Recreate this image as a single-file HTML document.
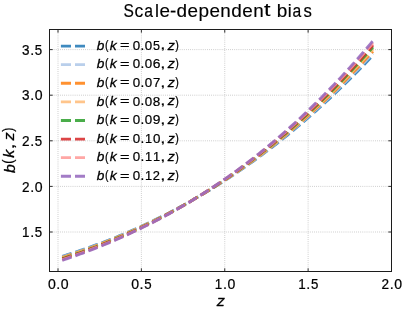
<!DOCTYPE html>
<html><head><meta charset="utf-8"><title>Scale-dependent bias</title>
<style>html,body{margin:0;padding:0;background:#fff;}svg{display:block;will-change:transform;transform:translateZ(0);}text{font-family:"Liberation Sans",sans-serif;fill:#000;stroke:#000;stroke-linejoin:round;}</style>
</head><body>
<svg width="405" height="313" viewBox="0 0 405 313">
<rect x="0" y="0" width="405" height="313" fill="#ffffff"/>
<g stroke="#b0b0b0" stroke-opacity="1" stroke-width="0.75" stroke-dasharray="0.8 1.3" fill="none">
<path d="M58.00 271.50 V29.50"/>
<path d="M141.38 271.50 V29.50"/>
<path d="M224.75 271.50 V29.50"/>
<path d="M308.12 271.50 V29.50"/>
<path d="M49.50 232.00 H391.50"/>
<path d="M49.50 186.40 H391.50"/>
<path d="M49.50 140.80 H391.50"/>
<path d="M49.50 95.20 H391.50"/>
<path d="M49.50 49.60 H391.50"/>
</g>
<g fill="none" stroke-opacity="0.86" stroke-width="2.85" stroke-dasharray="9.75 4.15" stroke-linecap="butt" stroke-linejoin="round">
<path d="M62.25 256.29 L64.84 255.49 L67.43 254.68 L70.02 253.85 L72.61 253.02 L75.20 252.17 L77.79 251.31 L80.38 250.44 L82.97 249.56 L85.56 248.66 L88.15 247.75 L90.74 246.83 L93.33 245.90 L95.92 244.96 L98.50 244.00 L101.09 243.03 L103.68 242.05 L106.27 241.06 L108.86 240.05 L111.45 239.03 L114.04 238.00 L116.63 236.95 L119.22 235.89 L121.81 234.82 L124.40 233.73 L126.99 232.63 L129.58 231.52 L132.17 230.39 L134.76 229.25 L137.35 228.10 L139.94 226.93 L142.53 225.75 L145.12 224.56 L147.71 223.35 L150.29 222.13 L152.88 220.89 L155.47 219.64 L158.06 218.37 L160.65 217.09 L163.24 215.80 L165.83 214.49 L168.42 213.16 L171.01 211.83 L173.60 210.47 L176.19 209.10 L178.78 207.72 L181.37 206.32 L183.96 204.91 L186.55 203.48 L189.14 202.04 L191.73 200.58 L194.32 199.10 L196.91 197.61 L199.50 196.11 L202.08 194.58 L204.67 193.05 L207.26 191.49 L209.85 189.92 L212.44 188.34 L215.03 186.74 L217.62 185.12 L220.21 183.49 L222.80 181.84 L225.39 180.17 L227.98 178.49 L230.57 176.79 L233.16 175.07 L235.75 173.34 L238.34 171.59 L240.93 169.82 L243.52 168.03 L246.11 166.23 L248.70 164.41 L251.28 162.58 L253.87 160.73 L256.46 158.86 L259.05 156.97 L261.64 155.06 L264.23 153.14 L266.82 151.20 L269.41 149.24 L272.00 147.26 L274.59 145.27 L277.18 143.26 L279.77 141.23 L282.36 139.18 L284.95 137.11 L287.54 135.02 L290.13 132.92 L292.72 130.80 L295.31 128.66 L297.90 126.49 L300.49 124.32 L303.07 122.12 L305.66 119.90 L308.25 117.67 L310.84 115.41 L313.43 113.14 L316.02 110.84 L318.61 108.53 L321.20 106.20 L323.79 103.85 L326.38 101.48 L328.97 99.08 L331.56 96.67 L334.15 94.24 L336.74 91.79 L339.33 89.32 L341.92 86.83 L344.51 84.32 L347.10 81.79 L349.69 79.24 L352.27 76.67 L354.86 74.07 L357.45 71.46 L360.04 68.83 L362.63 66.17 L365.22 63.50 L367.81 60.80 L370.40 58.08 L372.99 55.35" stroke="#1f77b4"/>
<path d="M62.25 256.87 L64.84 256.06 L67.43 255.23 L70.02 254.40 L72.61 253.56 L75.20 252.70 L77.79 251.83 L80.38 250.95 L82.97 250.06 L85.56 249.15 L88.15 248.23 L90.74 247.30 L93.33 246.36 L95.92 245.41 L98.50 244.44 L101.09 243.46 L103.68 242.47 L106.27 241.47 L108.86 240.45 L111.45 239.42 L114.04 238.38 L116.63 237.32 L119.22 236.25 L121.81 235.17 L124.40 234.07 L126.99 232.96 L129.58 231.84 L132.17 230.70 L134.76 229.55 L137.35 228.39 L139.94 227.21 L142.53 226.02 L145.12 224.81 L147.71 223.59 L150.29 222.35 L152.88 221.11 L155.47 219.84 L158.06 218.56 L160.65 217.27 L163.24 215.96 L165.83 214.64 L168.42 213.31 L171.01 211.95 L173.60 210.59 L176.19 209.20 L178.78 207.81 L181.37 206.39 L183.96 204.97 L186.55 203.52 L189.14 202.06 L191.73 200.59 L194.32 199.10 L196.91 197.59 L199.50 196.07 L202.08 194.53 L204.67 192.98 L207.26 191.41 L209.85 189.82 L212.44 188.22 L215.03 186.60 L217.62 184.96 L220.21 183.31 L222.80 181.64 L225.39 179.96 L227.98 178.25 L230.57 176.53 L233.16 174.80 L235.75 173.04 L238.34 171.27 L240.93 169.48 L243.52 167.68 L246.11 165.86 L248.70 164.01 L251.28 162.16 L253.87 160.28 L256.46 158.39 L259.05 156.47 L261.64 154.54 L264.23 152.60 L266.82 150.63 L269.41 148.64 L272.00 146.64 L274.59 144.62 L277.18 142.58 L279.77 140.52 L282.36 138.44 L284.95 136.35 L287.54 134.23 L290.13 132.10 L292.72 129.95 L295.31 127.77 L297.90 125.58 L300.49 123.37 L303.07 121.14 L305.66 118.89 L308.25 116.62 L310.84 114.34 L313.43 112.03 L316.02 109.70 L318.61 107.35 L321.20 104.98 L323.79 102.59 L326.38 100.18 L328.97 97.76 L331.56 95.31 L334.15 92.84 L336.74 90.35 L339.33 87.84 L341.92 85.30 L344.51 82.75 L347.10 80.18 L349.69 77.58 L352.27 74.97 L354.86 72.33 L357.45 69.67 L360.04 66.99 L362.63 64.29 L365.22 61.57 L367.81 58.83 L370.40 56.06 L372.99 53.28" stroke="#aec7e8"/>
<path d="M62.25 257.44 L64.84 256.62 L67.43 255.79 L70.02 254.95 L72.61 254.09 L75.20 253.23 L77.79 252.35 L80.38 251.46 L82.97 250.55 L85.56 249.64 L88.15 248.71 L90.74 247.77 L93.33 246.82 L95.92 245.86 L98.50 244.88 L101.09 243.89 L103.68 242.89 L106.27 241.88 L108.86 240.85 L111.45 239.81 L114.04 238.76 L116.63 237.69 L119.22 236.61 L121.81 235.52 L124.40 234.41 L126.99 233.29 L129.58 232.16 L132.17 231.01 L134.76 229.85 L137.35 228.67 L139.94 227.48 L142.53 226.28 L145.12 225.06 L147.71 223.83 L150.29 222.58 L152.88 221.32 L155.47 220.05 L158.06 218.76 L160.65 217.45 L163.24 216.13 L165.83 214.80 L168.42 213.45 L171.01 212.08 L173.60 210.70 L176.19 209.30 L178.78 207.89 L181.37 206.47 L183.96 205.02 L186.55 203.57 L189.14 202.09 L191.73 200.60 L194.32 199.10 L196.91 197.58 L199.50 196.04 L202.08 194.48 L204.67 192.91 L207.26 191.32 L209.85 189.72 L212.44 188.10 L215.03 186.46 L217.62 184.81 L220.21 183.14 L222.80 181.45 L225.39 179.75 L227.98 178.02 L230.57 176.28 L233.16 174.53 L235.75 172.75 L238.34 170.96 L240.93 169.15 L243.52 167.32 L246.11 165.48 L248.70 163.61 L251.28 161.73 L253.87 159.83 L256.46 157.92 L259.05 155.98 L261.64 154.02 L264.23 152.05 L266.82 150.06 L269.41 148.05 L272.00 146.02 L274.59 143.97 L277.18 141.90 L279.77 139.82 L282.36 137.71 L284.95 135.59 L287.54 133.44 L290.13 131.28 L292.72 129.10 L295.31 126.89 L297.90 124.67 L300.49 122.43 L303.07 120.17 L305.66 117.88 L308.25 115.58 L310.84 113.26 L313.43 110.92 L316.02 108.55 L318.61 106.17 L321.20 103.76 L323.79 101.34 L326.38 98.89 L328.97 96.43 L331.56 93.94 L334.15 91.43 L336.74 88.90 L339.33 86.35 L341.92 83.78 L344.51 81.18 L347.10 78.57 L349.69 75.93 L352.27 73.27 L354.86 70.59 L357.45 67.89 L360.04 65.16 L362.63 62.42 L365.22 59.65 L367.81 56.86 L370.40 54.04 L372.99 51.21" stroke="#ff7f0e"/>
<path d="M62.25 258.02 L64.84 257.19 L67.43 256.35 L70.02 255.50 L72.61 254.63 L75.20 253.75 L77.79 252.87 L80.38 251.97 L82.97 251.05 L85.56 250.13 L88.15 249.19 L90.74 248.24 L93.33 247.28 L95.92 246.31 L98.50 245.32 L101.09 244.33 L103.68 243.31 L106.27 242.29 L108.86 241.25 L111.45 240.20 L114.04 239.14 L116.63 238.06 L119.22 236.97 L121.81 235.87 L124.40 234.75 L126.99 233.62 L129.58 232.48 L132.17 231.32 L134.76 230.14 L137.35 228.96 L139.94 227.76 L142.53 226.54 L145.12 225.31 L147.71 224.07 L150.29 222.81 L152.88 221.54 L155.47 220.25 L158.06 218.95 L160.65 217.63 L163.24 216.30 L165.83 214.95 L168.42 213.59 L171.01 212.21 L173.60 210.81 L176.19 209.40 L178.78 207.98 L181.37 206.54 L183.96 205.08 L186.55 203.61 L189.14 202.12 L191.73 200.62 L194.32 199.09 L196.91 197.56 L199.50 196.00 L202.08 194.43 L204.67 192.84 L207.26 191.24 L209.85 189.62 L212.44 187.98 L215.03 186.33 L217.62 184.65 L220.21 182.97 L222.80 181.26 L225.39 179.53 L227.98 177.79 L230.57 176.03 L233.16 174.26 L235.75 172.46 L238.34 170.65 L240.93 168.82 L243.52 166.97 L246.11 165.10 L248.70 163.21 L251.28 161.31 L253.87 159.39 L256.46 157.45 L259.05 155.49 L261.64 153.51 L264.23 151.51 L266.82 149.49 L269.41 147.45 L272.00 145.40 L274.59 143.32 L277.18 141.23 L279.77 139.12 L282.36 136.98 L284.95 134.83 L287.54 132.65 L290.13 130.46 L292.72 128.25 L295.31 126.01 L297.90 123.76 L300.49 121.49 L303.07 119.19 L305.66 116.88 L308.25 114.54 L310.84 112.18 L313.43 109.81 L316.02 107.41 L318.61 104.99 L321.20 102.55 L323.79 100.09 L326.38 97.60 L328.97 95.10 L331.56 92.57 L334.15 90.02 L336.74 87.45 L339.33 84.86 L341.92 82.25 L344.51 79.61 L347.10 76.96 L349.69 74.28 L352.27 71.57 L354.86 68.85 L357.45 66.10 L360.04 63.33 L362.63 60.54 L365.22 57.72 L367.81 54.88 L370.40 52.02 L372.99 49.14" stroke="#ffbb78"/>
<path d="M62.25 258.60 L64.84 257.76 L67.43 256.91 L70.02 256.04 L72.61 255.17 L75.20 254.28 L77.79 253.38 L80.38 252.47 L82.97 251.55 L85.56 250.62 L88.15 249.67 L90.74 248.71 L93.33 247.74 L95.92 246.76 L98.50 245.76 L101.09 244.76 L103.68 243.73 L106.27 242.70 L108.86 241.65 L111.45 240.59 L114.04 239.52 L116.63 238.43 L119.22 237.33 L121.81 236.22 L124.40 235.09 L126.99 233.95 L129.58 232.79 L132.17 231.62 L134.76 230.44 L137.35 229.24 L139.94 228.03 L142.53 226.81 L145.12 225.56 L147.71 224.31 L150.29 223.04 L152.88 221.75 L155.47 220.45 L158.06 219.14 L160.65 217.81 L163.24 216.46 L165.83 215.10 L168.42 213.73 L171.01 212.34 L173.60 210.93 L176.19 209.50 L178.78 208.07 L181.37 206.61 L183.96 205.14 L186.55 203.65 L189.14 202.15 L191.73 200.63 L194.32 199.09 L196.91 197.54 L199.50 195.97 L202.08 194.38 L204.67 192.78 L207.26 191.16 L209.85 189.52 L212.44 187.86 L215.03 186.19 L217.62 184.50 L220.21 182.79 L222.80 181.07 L225.39 179.32 L227.98 177.56 L230.57 175.78 L233.16 173.98 L235.75 172.17 L238.34 170.34 L240.93 168.48 L243.52 166.61 L246.11 164.72 L248.70 162.81 L251.28 160.89 L253.87 158.94 L256.46 156.98 L259.05 154.99 L261.64 152.99 L264.23 150.96 L266.82 148.92 L269.41 146.86 L272.00 144.78 L274.59 142.68 L277.18 140.55 L279.77 138.41 L282.36 136.25 L284.95 134.07 L287.54 131.86 L290.13 129.64 L292.72 127.40 L295.31 125.13 L297.90 122.85 L300.49 120.54 L303.07 118.22 L305.66 115.87 L308.25 113.50 L310.84 111.11 L313.43 108.70 L316.02 106.26 L318.61 103.81 L321.20 101.33 L323.79 98.83 L326.38 96.31 L328.97 93.77 L331.56 91.20 L334.15 88.62 L336.74 86.01 L339.33 83.38 L341.92 80.72 L344.51 78.04 L347.10 75.34 L349.69 72.62 L352.27 69.88 L354.86 67.11 L357.45 64.31 L360.04 61.50 L362.63 58.66 L365.22 55.80 L367.81 52.91 L370.40 50.00 L372.99 47.07" stroke="#2ca02c"/>
<path d="M62.25 259.17 L64.84 258.32 L67.43 257.46 L70.02 256.59 L72.61 255.71 L75.20 254.81 L77.79 253.90 L80.38 252.98 L82.97 252.05 L85.56 251.11 L88.15 250.15 L90.74 249.18 L93.33 248.20 L95.92 247.21 L98.50 246.20 L101.09 245.19 L103.68 244.16 L106.27 243.11 L108.86 242.05 L111.45 240.98 L114.04 239.90 L116.63 238.80 L119.22 237.69 L121.81 236.57 L124.40 235.43 L126.99 234.28 L129.58 233.11 L132.17 231.93 L134.76 230.74 L137.35 229.53 L139.94 228.31 L142.53 227.07 L145.12 225.82 L147.71 224.55 L150.29 223.27 L152.88 221.97 L155.47 220.66 L158.06 219.33 L160.65 217.99 L163.24 216.63 L165.83 215.26 L168.42 213.87 L171.01 212.46 L173.60 211.04 L176.19 209.60 L178.78 208.15 L181.37 206.68 L183.96 205.20 L186.55 203.69 L189.14 202.18 L191.73 200.64 L194.32 199.09 L196.91 197.52 L199.50 195.93 L202.08 194.33 L204.67 192.71 L207.26 191.07 L209.85 189.42 L212.44 187.74 L215.03 186.05 L217.62 184.34 L220.21 182.62 L222.80 180.87 L225.39 179.11 L227.98 177.33 L230.57 175.53 L233.16 173.71 L235.75 171.88 L238.34 170.02 L240.93 168.15 L243.52 166.26 L246.11 164.34 L248.70 162.41 L251.28 160.46 L253.87 158.49 L256.46 156.51 L259.05 154.50 L261.64 152.47 L264.23 150.42 L266.82 148.35 L269.41 146.26 L272.00 144.16 L274.59 142.03 L277.18 139.88 L279.77 137.71 L282.36 135.52 L284.95 133.31 L287.54 131.08 L290.13 128.82 L292.72 126.55 L295.31 124.25 L297.90 121.94 L300.49 119.60 L303.07 117.24 L305.66 114.86 L308.25 112.46 L310.84 110.03 L313.43 107.59 L316.02 105.12 L318.61 102.63 L321.20 100.11 L323.79 97.58 L326.38 95.02 L328.97 92.44 L331.56 89.84 L334.15 87.21 L336.74 84.56 L339.33 81.89 L341.92 79.19 L344.51 76.48 L347.10 73.73 L349.69 70.97 L352.27 68.18 L354.86 65.37 L357.45 62.53 L360.04 59.67 L362.63 56.78 L365.22 53.87 L367.81 50.94 L370.40 47.98 L372.99 45.00" stroke="#d62728"/>
<path d="M62.25 259.75 L64.84 258.89 L67.43 258.02 L70.02 257.14 L72.61 256.24 L75.20 255.34 L77.79 254.42 L80.38 253.49 L82.97 252.55 L85.56 251.60 L88.15 250.63 L90.74 249.65 L93.33 248.66 L95.92 247.66 L98.50 246.65 L101.09 245.62 L103.68 244.58 L106.27 243.52 L108.86 242.46 L111.45 241.37 L114.04 240.28 L116.63 239.17 L119.22 238.05 L121.81 236.92 L124.40 235.77 L126.99 234.61 L129.58 233.43 L132.17 232.24 L134.76 231.03 L137.35 229.81 L139.94 228.58 L142.53 227.33 L145.12 226.07 L147.71 224.79 L150.29 223.50 L152.88 222.19 L155.47 220.86 L158.06 219.52 L160.65 218.17 L163.24 216.80 L165.83 215.41 L168.42 214.01 L171.01 212.59 L173.60 211.16 L176.19 209.70 L178.78 208.24 L181.37 206.75 L183.96 205.25 L186.55 203.74 L189.14 202.20 L191.73 200.65 L194.32 199.09 L196.91 197.50 L199.50 195.90 L202.08 194.28 L204.67 192.64 L207.26 190.99 L209.85 189.31 L212.44 187.62 L215.03 185.92 L217.62 184.19 L220.21 182.44 L222.80 180.68 L225.39 178.90 L227.98 177.10 L230.57 175.28 L233.16 173.44 L235.75 171.59 L238.34 169.71 L240.93 167.82 L243.52 165.90 L246.11 163.97 L248.70 162.01 L251.28 160.04 L253.87 158.05 L256.46 156.03 L259.05 154.00 L261.64 151.95 L264.23 149.88 L266.82 147.78 L269.41 145.67 L272.00 143.53 L274.59 141.38 L277.18 139.20 L279.77 137.00 L282.36 134.79 L284.95 132.55 L287.54 130.29 L290.13 128.00 L292.72 125.70 L295.31 123.37 L297.90 121.03 L300.49 118.66 L303.07 116.27 L305.66 113.85 L308.25 111.42 L310.84 108.96 L313.43 106.48 L316.02 103.97 L318.61 101.45 L321.20 98.90 L323.79 96.33 L326.38 93.73 L328.97 91.11 L331.56 88.47 L334.15 85.81 L336.74 83.12 L339.33 80.40 L341.92 77.67 L344.51 74.91 L347.10 72.12 L349.69 69.31 L352.27 66.48 L354.86 63.62 L357.45 60.74 L360.04 57.84 L362.63 54.90 L365.22 51.95 L367.81 48.97 L370.40 45.96 L372.99 42.93" stroke="#ff9896"/>
<path d="M62.25 260.33 L64.84 259.46 L67.43 258.58 L70.02 257.68 L72.61 256.78 L75.20 255.87 L77.79 254.94 L80.38 254.00 L82.97 253.05 L85.56 252.09 L88.15 251.11 L90.74 250.12 L93.33 249.12 L95.92 248.11 L98.50 247.09 L101.09 246.05 L103.68 245.00 L106.27 243.93 L108.86 242.86 L111.45 241.77 L114.04 240.66 L116.63 239.54 L119.22 238.41 L121.81 237.27 L124.40 236.11 L126.99 234.94 L129.58 233.75 L132.17 232.55 L134.76 231.33 L137.35 230.10 L139.94 228.85 L142.53 227.59 L145.12 226.32 L147.71 225.03 L150.29 223.72 L152.88 222.40 L155.47 221.07 L158.06 219.71 L160.65 218.35 L163.24 216.96 L165.83 215.56 L168.42 214.15 L171.01 212.72 L173.60 211.27 L176.19 209.80 L178.78 208.32 L181.37 206.83 L183.96 205.31 L186.55 203.78 L189.14 202.23 L191.73 200.67 L194.32 199.08 L196.91 197.48 L199.50 195.86 L202.08 194.23 L204.67 192.57 L207.26 190.90 L209.85 189.21 L212.44 187.51 L215.03 185.78 L217.62 184.03 L220.21 182.27 L222.80 180.49 L225.39 178.69 L227.98 176.87 L230.57 175.03 L233.16 173.17 L235.75 171.29 L238.34 169.40 L240.93 167.48 L243.52 165.55 L246.11 163.59 L248.70 161.61 L251.28 159.62 L253.87 157.60 L256.46 155.56 L259.05 153.51 L261.64 151.43 L264.23 149.33 L266.82 147.21 L269.41 145.07 L272.00 142.91 L274.59 140.73 L277.18 138.53 L279.77 136.30 L282.36 134.05 L284.95 131.79 L287.54 129.50 L290.13 127.18 L292.72 124.85 L295.31 122.49 L297.90 120.11 L300.49 117.71 L303.07 115.29 L305.66 112.84 L308.25 110.37 L310.84 107.88 L313.43 105.37 L316.02 102.83 L318.61 100.27 L321.20 97.68 L323.79 95.07 L326.38 92.44 L328.97 89.78 L331.56 87.10 L334.15 84.40 L336.74 81.67 L339.33 78.92 L341.92 76.14 L344.51 73.34 L347.10 70.51 L349.69 67.66 L352.27 64.78 L354.86 61.88 L357.45 58.96 L360.04 56.00 L362.63 53.03 L365.22 50.02 L367.81 46.99 L370.40 43.94 L372.99 40.86" stroke="#9467bd"/>
</g>
<g stroke="#1c1c1c" stroke-width="0.9" fill="none">
<path d="M58.00 271.50 v-3.20"/>
<path d="M58.00 29.50 v3.20"/>
<path d="M141.38 271.50 v-3.20"/>
<path d="M141.38 29.50 v3.20"/>
<path d="M224.75 271.50 v-3.20"/>
<path d="M224.75 29.50 v3.20"/>
<path d="M308.12 271.50 v-3.20"/>
<path d="M308.12 29.50 v3.20"/>
<path d="M391.50 271.50 v-3.20"/>
<path d="M391.50 29.50 v3.20"/>
<path d="M49.50 232.00 h3.20"/>
<path d="M391.50 232.00 h-3.20"/>
<path d="M49.50 186.40 h3.20"/>
<path d="M391.50 186.40 h-3.20"/>
<path d="M49.50 140.80 h3.20"/>
<path d="M391.50 140.80 h-3.20"/>
<path d="M49.50 95.20 h3.20"/>
<path d="M391.50 95.20 h-3.20"/>
<path d="M49.50 49.60 h3.20"/>
<path d="M391.50 49.60 h-3.20"/>
</g>
<rect x="49.50" y="29.50" width="342.00" height="242.00" fill="none" stroke="#1c1c1c" stroke-width="1.0"/>
<text transform="translate(47.91 289.10) scale(0.7036 0.7131)" font-size="20px" stroke-width="0.311">0</text><text transform="translate(56.19 289.05) scale(0.7223 0.7742)" font-size="20px" stroke-width="0.294">.</text><text transform="translate(60.65 289.10) scale(0.7036 0.7131)" font-size="20px" stroke-width="0.311">0</text>
<text transform="translate(131.29 289.10) scale(0.7036 0.7131)" font-size="20px" stroke-width="0.311">0</text><text transform="translate(139.56 289.05) scale(0.7223 0.7742)" font-size="20px" stroke-width="0.294">.</text><text transform="translate(144.19 289.10) scale(0.6641 0.7109)" font-size="20px" stroke-width="0.320">5</text>
<text transform="translate(214.78 289.05) scale(0.6720 0.7073)" font-size="20px" stroke-width="0.319">1</text><text transform="translate(222.94 289.05) scale(0.7223 0.7742)" font-size="20px" stroke-width="0.294">.</text><text transform="translate(227.40 289.10) scale(0.7036 0.7131)" font-size="20px" stroke-width="0.311">0</text>
<text transform="translate(298.15 289.05) scale(0.6720 0.7073)" font-size="20px" stroke-width="0.319">1</text><text transform="translate(306.31 289.05) scale(0.7223 0.7742)" font-size="20px" stroke-width="0.294">.</text><text transform="translate(310.94 289.10) scale(0.6641 0.7109)" font-size="20px" stroke-width="0.320">5</text>
<text transform="translate(381.38 289.05) scale(0.6782 0.7095)" font-size="20px" stroke-width="0.317">2</text><text transform="translate(389.69 289.05) scale(0.7223 0.7742)" font-size="20px" stroke-width="0.294">.</text><text transform="translate(394.15 289.10) scale(0.7036 0.7131)" font-size="20px" stroke-width="0.311">0</text>
<text transform="translate(22.06 237.10) scale(0.6720 0.7073)" font-size="20px" stroke-width="0.319">1</text><text transform="translate(30.22 237.10) scale(0.7223 0.7742)" font-size="20px" stroke-width="0.294">.</text><text transform="translate(34.85 237.15) scale(0.6641 0.7109)" font-size="20px" stroke-width="0.320">5</text>
<text transform="translate(21.91 191.50) scale(0.6782 0.7095)" font-size="20px" stroke-width="0.317">2</text><text transform="translate(30.22 191.50) scale(0.7223 0.7742)" font-size="20px" stroke-width="0.294">.</text><text transform="translate(34.69 191.55) scale(0.7036 0.7131)" font-size="20px" stroke-width="0.311">0</text>
<text transform="translate(21.91 145.90) scale(0.6782 0.7095)" font-size="20px" stroke-width="0.317">2</text><text transform="translate(30.22 145.90) scale(0.7223 0.7742)" font-size="20px" stroke-width="0.294">.</text><text transform="translate(34.85 145.95) scale(0.6641 0.7109)" font-size="20px" stroke-width="0.320">5</text>
<text transform="translate(22.12 100.35) scale(0.6757 0.7131)" font-size="20px" stroke-width="0.317">3</text><text transform="translate(30.22 100.30) scale(0.7223 0.7742)" font-size="20px" stroke-width="0.294">.</text><text transform="translate(34.69 100.35) scale(0.7036 0.7131)" font-size="20px" stroke-width="0.311">0</text>
<text transform="translate(22.12 54.75) scale(0.6757 0.7131)" font-size="20px" stroke-width="0.317">3</text><text transform="translate(30.22 54.70) scale(0.7223 0.7742)" font-size="20px" stroke-width="0.294">.</text><text transform="translate(34.85 54.75) scale(0.6641 0.7109)" font-size="20px" stroke-width="0.320">5</text>
<text transform="translate(216.80 306.20) scale(0.8135 0.7593)" font-size="20px" stroke-width="0.382" font-style="italic">z</text>
<g transform="translate(14.45 173.4) rotate(-90)">
<text transform="translate(0.28 0.06) scale(0.7902 0.7730)" font-size="20px" stroke-width="0.384" font-style="italic">b</text><text transform="translate(9.77 -0.97) scale(0.6200 0.7012)" font-size="20px" stroke-width="0.334">(</text><text transform="translate(15.75 0.00) scale(0.8051 0.7691)" font-size="20px" stroke-width="0.381" font-style="italic">k</text><text transform="translate(23.81 -0.21) scale(1.0692 0.7503)" font-size="20px" stroke-width="0.246">,</text><text transform="translate(32.87 0.00) scale(0.8135 0.7593)" font-size="20px" stroke-width="0.382" font-style="italic">z</text><text transform="translate(41.72 -0.97) scale(0.6200 0.7012)" font-size="20px" stroke-width="0.334">)</text>
</g>
<text transform="translate(123.54 16.67) scale(0.7778 0.9321)" font-size="20px" stroke-width="0.176">S</text><text transform="translate(134.40 16.67) scale(0.8755 0.9145)" font-size="20px" stroke-width="0.168">c</text><text transform="translate(144.15 16.67) scale(0.7846 0.9145)" font-size="20px" stroke-width="0.177">a</text><text transform="translate(154.91 16.60) scale(0.8919 0.9148)" font-size="20px" stroke-width="0.166">l</text><text transform="translate(159.47 16.67) scale(0.9424 0.9145)" font-size="20px" stroke-width="0.162">e</text><text transform="translate(170.06 16.57) scale(0.9406 0.8943)" font-size="20px" stroke-width="0.164">-</text><text transform="translate(176.51 16.67) scale(0.9483 0.9195)" font-size="20px" stroke-width="0.161">d</text><text transform="translate(187.58 16.67) scale(0.9424 0.9145)" font-size="20px" stroke-width="0.162">e</text><text transform="translate(198.52 16.50) scale(0.9492 0.8994)" font-size="20px" stroke-width="0.162">p</text><text transform="translate(209.40 16.67) scale(0.9424 0.9145)" font-size="20px" stroke-width="0.162">e</text><text transform="translate(220.31 16.60) scale(0.9407 0.9081)" font-size="20px" stroke-width="0.162">n</text><text transform="translate(231.20 16.67) scale(0.9483 0.9195)" font-size="20px" stroke-width="0.161">d</text><text transform="translate(242.27 16.67) scale(0.9424 0.9145)" font-size="20px" stroke-width="0.162">e</text><text transform="translate(253.18 16.60) scale(0.9407 0.9081)" font-size="20px" stroke-width="0.162">n</text><text transform="translate(264.02 16.45) scale(1.1661 0.9363)" font-size="20px" stroke-width="0.144">t</text><text transform="translate(276.65 16.67) scale(0.9492 0.9195)" font-size="20px" stroke-width="0.161">b</text><text transform="translate(287.82 16.60) scale(0.8919 0.9148)" font-size="20px" stroke-width="0.166">i</text><text transform="translate(292.60 16.67) scale(0.7846 0.9145)" font-size="20px" stroke-width="0.177">a</text><text transform="translate(303.39 16.67) scale(0.8363 0.9169)" font-size="20px" stroke-width="0.171">s</text>
<g fill="none" stroke-opacity="0.86" stroke-width="2.85" stroke-linecap="butt">
<path d="M60.9 46.05 h10.1 M75 46.05 h10" stroke="#1f77b4"/>
<path d="M60.9 64.65 h10.1 M75 64.65 h10" stroke="#aec7e8"/>
<path d="M60.9 83.25 h10.1 M75 83.25 h10" stroke="#ff7f0e"/>
<path d="M60.9 101.85 h10.1 M75 101.85 h10" stroke="#ffbb78"/>
<path d="M60.9 120.45 h10.1 M75 120.45 h10" stroke="#2ca02c"/>
<path d="M60.9 139.05 h10.1 M75 139.05 h10" stroke="#d62728"/>
<path d="M60.9 157.65 h10.1 M75 157.65 h10" stroke="#ff9896"/>
<path d="M60.9 176.25 h10.1 M75 176.25 h10" stroke="#9467bd"/>
</g>
<text transform="translate(96.81 49.55) scale(0.6825 0.6676)" font-size="20px" stroke-width="0.444" font-style="italic">b</text><text transform="translate(105.01 48.66) scale(0.5355 0.6056)" font-size="20px" stroke-width="0.386">(</text><text transform="translate(109.74 49.50) scale(0.6953 0.6642)" font-size="20px" stroke-width="0.441" font-style="italic">k</text><text transform="translate(119.88 49.19) scale(0.8162 0.5548)" font-size="20px" stroke-width="0.327">=</text><text transform="translate(132.73 49.55) scale(0.6678 0.6768)" font-size="20px" stroke-width="0.327">0</text><text transform="translate(140.58 49.50) scale(0.6855 0.7347)" font-size="20px" stroke-width="0.310">.</text><text transform="translate(144.82 49.55) scale(0.6678 0.6768)" font-size="20px" stroke-width="0.327">0</text><text transform="translate(153.04 49.55) scale(0.6302 0.6747)" font-size="20px" stroke-width="0.337">5</text><text transform="translate(160.15 49.31) scale(0.9235 0.6480)" font-size="20px" stroke-width="0.284">,</text><text transform="translate(167.67 49.50) scale(0.7026 0.6557)" font-size="20px" stroke-width="0.442" font-style="italic">z</text><text transform="translate(175.13 48.66) scale(0.5355 0.6056)" font-size="20px" stroke-width="0.386">)</text>
<text transform="translate(96.81 68.20) scale(0.6825 0.6676)" font-size="20px" stroke-width="0.444" font-style="italic">b</text><text transform="translate(105.01 67.31) scale(0.5355 0.6056)" font-size="20px" stroke-width="0.386">(</text><text transform="translate(109.74 68.15) scale(0.6953 0.6642)" font-size="20px" stroke-width="0.441" font-style="italic">k</text><text transform="translate(119.88 67.84) scale(0.8162 0.5548)" font-size="20px" stroke-width="0.327">=</text><text transform="translate(132.73 68.20) scale(0.6678 0.6768)" font-size="20px" stroke-width="0.327">0</text><text transform="translate(140.58 68.15) scale(0.6855 0.7347)" font-size="20px" stroke-width="0.310">.</text><text transform="translate(144.82 68.20) scale(0.6678 0.6768)" font-size="20px" stroke-width="0.327">0</text><text transform="translate(152.75 68.20) scale(0.6912 0.6768)" font-size="20px" stroke-width="0.322">6</text><text transform="translate(160.15 67.96) scale(0.9235 0.6480)" font-size="20px" stroke-width="0.284">,</text><text transform="translate(167.67 68.15) scale(0.7026 0.6557)" font-size="20px" stroke-width="0.442" font-style="italic">z</text><text transform="translate(175.13 67.31) scale(0.5355 0.6056)" font-size="20px" stroke-width="0.386">)</text>
<text transform="translate(96.81 86.85) scale(0.6825 0.6676)" font-size="20px" stroke-width="0.444" font-style="italic">b</text><text transform="translate(105.01 85.96) scale(0.5355 0.6056)" font-size="20px" stroke-width="0.386">(</text><text transform="translate(109.74 86.80) scale(0.6953 0.6642)" font-size="20px" stroke-width="0.441" font-style="italic">k</text><text transform="translate(119.88 86.49) scale(0.8162 0.5548)" font-size="20px" stroke-width="0.327">=</text><text transform="translate(132.73 86.85) scale(0.6678 0.6768)" font-size="20px" stroke-width="0.327">0</text><text transform="translate(140.58 86.80) scale(0.6855 0.7347)" font-size="20px" stroke-width="0.310">.</text><text transform="translate(144.82 86.85) scale(0.6678 0.6768)" font-size="20px" stroke-width="0.327">0</text><text transform="translate(152.94 86.80) scale(0.6532 0.6713)" font-size="20px" stroke-width="0.332">7</text><text transform="translate(160.15 86.61) scale(0.9235 0.6480)" font-size="20px" stroke-width="0.284">,</text><text transform="translate(167.67 86.80) scale(0.7026 0.6557)" font-size="20px" stroke-width="0.442" font-style="italic">z</text><text transform="translate(175.13 85.96) scale(0.5355 0.6056)" font-size="20px" stroke-width="0.386">)</text>
<text transform="translate(96.81 105.50) scale(0.6825 0.6676)" font-size="20px" stroke-width="0.444" font-style="italic">b</text><text transform="translate(105.01 104.61) scale(0.5355 0.6056)" font-size="20px" stroke-width="0.386">(</text><text transform="translate(109.74 105.45) scale(0.6953 0.6642)" font-size="20px" stroke-width="0.441" font-style="italic">k</text><text transform="translate(119.88 105.14) scale(0.8162 0.5548)" font-size="20px" stroke-width="0.327">=</text><text transform="translate(132.73 105.50) scale(0.6678 0.6768)" font-size="20px" stroke-width="0.327">0</text><text transform="translate(140.58 105.45) scale(0.6855 0.7347)" font-size="20px" stroke-width="0.310">.</text><text transform="translate(144.82 105.50) scale(0.6678 0.6768)" font-size="20px" stroke-width="0.327">0</text><text transform="translate(152.84 105.50) scale(0.6750 0.6768)" font-size="20px" stroke-width="0.325">8</text><text transform="translate(160.15 105.26) scale(0.9235 0.6480)" font-size="20px" stroke-width="0.284">,</text><text transform="translate(167.67 105.45) scale(0.7026 0.6557)" font-size="20px" stroke-width="0.442" font-style="italic">z</text><text transform="translate(175.13 104.61) scale(0.5355 0.6056)" font-size="20px" stroke-width="0.386">)</text>
<text transform="translate(96.81 124.15) scale(0.6825 0.6676)" font-size="20px" stroke-width="0.444" font-style="italic">b</text><text transform="translate(105.01 123.26) scale(0.5355 0.6056)" font-size="20px" stroke-width="0.386">(</text><text transform="translate(109.74 124.10) scale(0.6953 0.6642)" font-size="20px" stroke-width="0.441" font-style="italic">k</text><text transform="translate(119.88 123.79) scale(0.8162 0.5548)" font-size="20px" stroke-width="0.327">=</text><text transform="translate(132.73 124.15) scale(0.6678 0.6768)" font-size="20px" stroke-width="0.327">0</text><text transform="translate(140.58 124.10) scale(0.6855 0.7347)" font-size="20px" stroke-width="0.310">.</text><text transform="translate(144.82 124.15) scale(0.6678 0.6768)" font-size="20px" stroke-width="0.327">0</text><text transform="translate(152.72 124.15) scale(0.6898 0.6768)" font-size="20px" stroke-width="0.322">9</text><text transform="translate(160.15 123.91) scale(0.9235 0.6480)" font-size="20px" stroke-width="0.284">,</text><text transform="translate(167.67 124.10) scale(0.7026 0.6557)" font-size="20px" stroke-width="0.442" font-style="italic">z</text><text transform="translate(175.13 123.26) scale(0.5355 0.6056)" font-size="20px" stroke-width="0.386">)</text>
<text transform="translate(96.81 142.80) scale(0.6825 0.6676)" font-size="20px" stroke-width="0.444" font-style="italic">b</text><text transform="translate(105.01 141.91) scale(0.5355 0.6056)" font-size="20px" stroke-width="0.386">(</text><text transform="translate(109.74 142.75) scale(0.6953 0.6642)" font-size="20px" stroke-width="0.441" font-style="italic">k</text><text transform="translate(119.88 142.44) scale(0.8162 0.5548)" font-size="20px" stroke-width="0.327">=</text><text transform="translate(132.73 142.80) scale(0.6678 0.6768)" font-size="20px" stroke-width="0.327">0</text><text transform="translate(140.58 142.75) scale(0.6855 0.7347)" font-size="20px" stroke-width="0.310">.</text><text transform="translate(144.93 142.75) scale(0.6378 0.6713)" font-size="20px" stroke-width="0.336">1</text><text transform="translate(152.88 142.80) scale(0.6678 0.6768)" font-size="20px" stroke-width="0.327">0</text><text transform="translate(160.15 142.56) scale(0.9235 0.6480)" font-size="20px" stroke-width="0.284">,</text><text transform="translate(167.67 142.75) scale(0.7026 0.6557)" font-size="20px" stroke-width="0.442" font-style="italic">z</text><text transform="translate(175.13 141.91) scale(0.5355 0.6056)" font-size="20px" stroke-width="0.386">)</text>
<text transform="translate(96.81 161.45) scale(0.6825 0.6676)" font-size="20px" stroke-width="0.444" font-style="italic">b</text><text transform="translate(105.01 160.56) scale(0.5355 0.6056)" font-size="20px" stroke-width="0.386">(</text><text transform="translate(109.74 161.40) scale(0.6953 0.6642)" font-size="20px" stroke-width="0.441" font-style="italic">k</text><text transform="translate(119.88 161.09) scale(0.8162 0.5548)" font-size="20px" stroke-width="0.327">=</text><text transform="translate(132.73 161.45) scale(0.6678 0.6768)" font-size="20px" stroke-width="0.327">0</text><text transform="translate(140.58 161.40) scale(0.6855 0.7347)" font-size="20px" stroke-width="0.310">.</text><text transform="translate(144.93 161.40) scale(0.6378 0.6713)" font-size="20px" stroke-width="0.336">1</text><text transform="translate(152.99 161.40) scale(0.6378 0.6713)" font-size="20px" stroke-width="0.336">1</text><text transform="translate(160.15 161.21) scale(0.9235 0.6480)" font-size="20px" stroke-width="0.284">,</text><text transform="translate(167.67 161.40) scale(0.7026 0.6557)" font-size="20px" stroke-width="0.442" font-style="italic">z</text><text transform="translate(175.13 160.56) scale(0.5355 0.6056)" font-size="20px" stroke-width="0.386">)</text>
<text transform="translate(96.81 180.10) scale(0.6825 0.6676)" font-size="20px" stroke-width="0.444" font-style="italic">b</text><text transform="translate(105.01 179.21) scale(0.5355 0.6056)" font-size="20px" stroke-width="0.386">(</text><text transform="translate(109.74 180.05) scale(0.6953 0.6642)" font-size="20px" stroke-width="0.441" font-style="italic">k</text><text transform="translate(119.88 179.74) scale(0.8162 0.5548)" font-size="20px" stroke-width="0.327">=</text><text transform="translate(132.73 180.10) scale(0.6678 0.6768)" font-size="20px" stroke-width="0.327">0</text><text transform="translate(140.58 180.05) scale(0.6855 0.7347)" font-size="20px" stroke-width="0.310">.</text><text transform="translate(144.93 180.05) scale(0.6378 0.6713)" font-size="20px" stroke-width="0.336">1</text><text transform="translate(152.85 180.05) scale(0.6437 0.6734)" font-size="20px" stroke-width="0.334">2</text><text transform="translate(160.15 179.86) scale(0.9235 0.6480)" font-size="20px" stroke-width="0.284">,</text><text transform="translate(167.67 180.05) scale(0.7026 0.6557)" font-size="20px" stroke-width="0.442" font-style="italic">z</text><text transform="translate(175.13 179.21) scale(0.5355 0.6056)" font-size="20px" stroke-width="0.386">)</text>
</svg>
</body></html>
